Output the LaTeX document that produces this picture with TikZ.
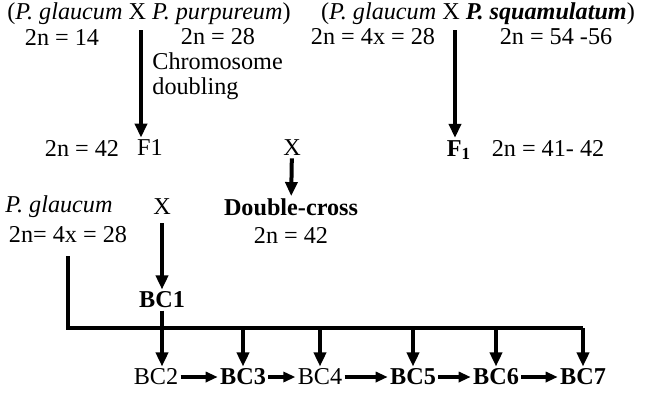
\documentclass[tikz,border=0pt]{standalone}
\usepackage{fontspec}
\setmainfont{Liberation Serif}
\usetikzlibrary{arrows.meta}
\tikzset{
    txt/.style={inner sep=1pt, font=\fontsize{12.1}{12.6}\selectfont},
    arr/.style={line width=2pt, -{Triangle[length=7pt,width=6pt]}},
    harr/.style={line width=1.6pt, -{Triangle[length=6pt,width=5pt]}},
}
\begin{document}
\begin{tikzpicture}[x=0.5pt, y=-0.5pt]
    \useasboundingbox (0,0) rectangle (648,393);
    % parents
    \node[txt] (crossA) at (149,14) {(\textit{P. glaucum} X \textit{P. purpureum})};
    \node[txt] (crossB) at (478,14) {(\textit{P. glaucum} X \textbf{\textit{P. squamulatum}})};
    \node[txt] (nA1) at (62,37) {2n = 14};
    \node[txt] (nA2) at (218,37) {2n = 28};
    \node[txt] (nB1) at (373,37) {2n = 4x = 28};
    \node[txt] (nB2) at (556,37) {2n = 54 -56};
    \node[txt, anchor=north west, align=left] (doubling) at (150,50) {Chromosome\\doubling};
    % F1 row
    \node[txt] (nF1) at (82,148) {2n = 42};
    \node[txt] (fA) at (150,148) {F1};
    \node[txt] (xA) at (292,148) {X};
    \node[txt] (fB) at (459,150) {\textbf{F\textsubscript{1}}};
    \node[txt] (nF2) at (548,148) {2n = 41- 42};
    % backcross row
    \node[txt] (glaucum) at (59,207) {\textit{P. glaucum}};
    \node[txt] (nG) at (68,235) {2n= 4x = 28};
    \node[txt] (xB) at (162,207) {X};
    \node[txt] (dcross) at (291,207) {\textbf{Double-cross}};
    \node[txt] (nD) at (291,235) {2n = 42};
    \node[txt] (bc1) at (162,300) {\textbf{BC1}};
    % BC generations
    \node[txt] (bc2) at (156,377) {BC2};
    \node[txt] (bc3) at (243,377) {\textbf{BC3}};
    \node[txt] (bc4) at (320,377) {BC4};
    \node[txt] (bc5) at (413,377) {\textbf{BC5}};
    \node[txt] (bc6) at (496,377) {\textbf{BC6}};
    \node[txt] (bc7) at (583,377) {\textbf{BC7}};

    \coordinate (sA) at (141,30);
    \coordinate (sB) at (455,30);
    \coordinate (sX) at (162,223);
    \coordinate (sG) at (68,256);
    \coordinate (bar) at (68,328);
    \draw[arr] (sA) -- (sA |- fA.north);
    \draw[arr] (sB) -- (sB |- fB.north);
    \draw[arr] (xA) -- (dcross);
    \draw[arr] (sX) -- (bc1);
    \draw[line width=2pt] (sG) -- (bar) -- (bar -| bc7);
    \draw[arr] (bar -| bc7) -- (bc7);
    \draw[arr] (bc1) -- (bc1 |- bc2.north);
    \foreach \k in {3,4,5,6}
        \draw[arr] (bar -| bc\k) -- (bc\k);
    \foreach \a/\b in {2/3,3/4,4/5,5/6,6/7}
        \draw[harr] (bc\a) -- (bc\b);
\end{tikzpicture}
\end{document}
